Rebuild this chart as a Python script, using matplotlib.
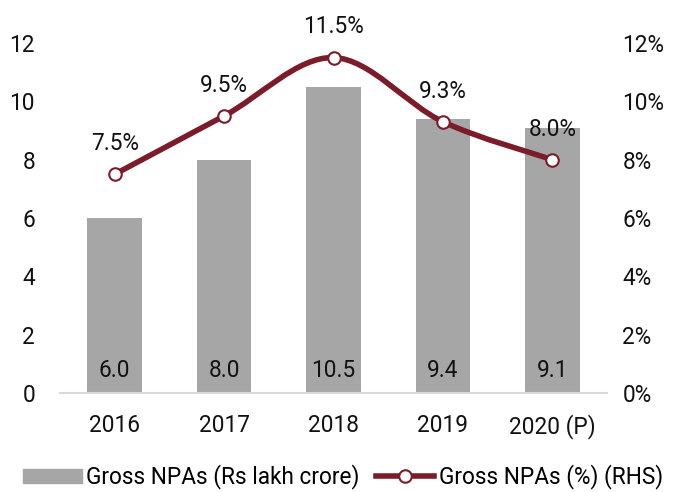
import numpy as np
import matplotlib.pyplot as plt
from matplotlib.path import Path
from matplotlib.patches import PathPatch, Patch
from matplotlib.lines import Line2D

plt.rcParams['font.family'] = ['Roboto', 'DejaVu Sans']

years = ['2016', '2017', '2018', '2019', '2020 (P)']
gross_npa = [6.0, 8.0, 10.5, 9.4, 9.1]          # Rs lakh crore
gross_npa_pct = [7.5, 9.5, 11.5, 9.3, 8.0]      # %

bar_color = '#a6a6a6'
line_color = '#7b1c2a'
txt_color = '#111111'
fs = 16.3

fig = plt.figure(figsize=(6.78, 4.92), dpi=100)
ax = fig.add_axes([60 / 678, 1 - 393 / 492, 547 / 678, 350 / 492])
x = np.arange(len(years))

ax.bar(x, gross_npa, width=0.5, color=bar_color, label='Gross NPAs (Rs lakh crore)')
for xi, v in zip(x, gross_npa):
    ax.text(xi, 0.78, f'{v:.1f}', ha='center', va='center', fontsize=fs, color=txt_color)

ax.set_xlim(-0.5, len(years) - 0.5)
ax.set_ylim(0, 12)
ax.set_yticks(range(0, 13, 2))
ax.set_xticks(x)
ax.set_xticklabels(years)
for s in ['top', 'right', 'left']:
    ax.spines[s].set_visible(False)
ax.spines['bottom'].set_color('#d9d9d9')
ax.spines['bottom'].set_linewidth(1.5)
ax.tick_params(axis='both', length=0, labelsize=fs, colors=txt_color)
ax.tick_params(axis='x', pad=15)
ax.tick_params(axis='y', pad=18)

ax2 = ax.twinx()
ax2.set_ylim(0, 12)
ax2.set_yticks(range(0, 13, 2))
ax2.set_yticklabels([f'{t}%' for t in range(0, 13, 2)])
for s in ax2.spines.values():
    s.set_visible(False)
ax2.tick_params(axis='y', length=0, labelsize=fs, colors=txt_color, pad=11)

# smooth line through the points (Catmull-Rom as cubic Bezier segments)
pts = np.column_stack([x, gross_npa_pct]).astype(float)
verts = [pts[0]]
codes = [Path.MOVETO]
for i in range(len(pts) - 1):
    p0 = pts[i - 1] if i > 0 else pts[i]
    p1, p2 = pts[i], pts[i + 1]
    p3 = pts[i + 2] if i + 2 < len(pts) else pts[i + 1]
    c1 = p1 + (p2 - p0) / 6
    c2 = p2 - (p3 - p1) / 6
    verts += [c1, c2, p2]
    codes += [Path.CURVE4] * 3
ax2.add_patch(PathPatch(Path(verts, codes), facecolor='none', edgecolor=line_color,
                        lw=4, capstyle='round', clip_on=False, zorder=3))
ax2.plot(x, gross_npa_pct, linestyle='none', marker='o', ms=9, mfc='white',
         mec=line_color, mew=1.5, zorder=4, clip_on=False)
for xi, v in zip(x, gross_npa_pct):
    ax2.text(xi, v + 1.05, f'{v:.1f}%', ha='center', va='center', fontsize=fs,
             color=txt_color)

# legend
handles = [Patch(color=bar_color, label='Gross NPAs (Rs lakh crore)'),
           Line2D([], [], color=line_color, lw=4, marker='o', ms=9, mfc='white',
                  mec=line_color, mew=1.5, label='Gross NPAs (%) (RHS)')]
fig.legend(handles=handles, loc='center', bbox_to_anchor=(0.506, 1 - 477 / 492), ncol=2,
           frameon=False, fontsize=fs, handlelength=2.6, handleheight=0.6,
           handletextpad=0.2, columnspacing=0.7, borderaxespad=0, borderpad=0)

fig.savefig('out.png', dpi=100)
